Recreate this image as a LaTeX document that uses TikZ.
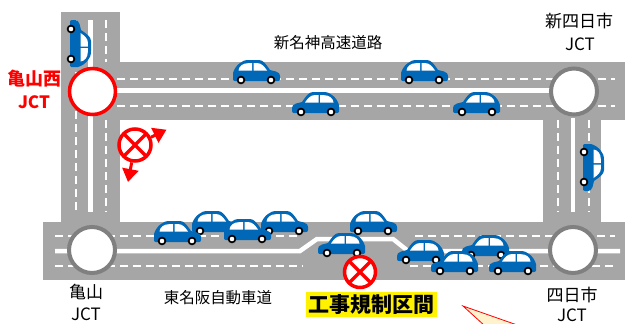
\documentclass[tikz,border=0pt]{standalone}
\usepackage{fontspec}
\newfontfamily\jp{Noto Sans CJK JP}
\usetikzlibrary{arrows.meta}

\definecolor{roadgray}{RGB}{166,166,166}
\definecolor{ringgray}{RGB}{128,128,128}
\definecolor{carblue}{RGB}{0,104,183}
\definecolor{calloutfill}{RGB}{255,242,204}

\tikzset{
  roadfill/.style={fill=roadgray},
  lanedash/.style={draw=white, line width=1.6pt, dash pattern=on 8pt off 5pt},
  midline/.style={draw=white, line width=4.5pt},
  jctnode/.style={circle, draw=ringgray, line width=4pt, fill=white,
    minimum size=46pt, inner sep=0pt},
  nosign/.style={circle, draw=red, line width=3.5pt, fill=white,
    minimum size=#1, inner sep=0pt,
    path picture={\draw[red, line width=3.5pt]
      (path picture bounding box.north west) -- (path picture bounding box.south east)
      (path picture bounding box.north east) -- (path picture bounding box.south west);}},
  detour/.style={draw=red, line width=3pt, -{Triangle[width=16pt,length=13pt]}},
  jctlabel/.style={font=\jp\fontsize{17}{17}\selectfont, inner sep=0pt},
  roadlabel/.style={font=\jp\fontsize{15.5}{15.5}\selectfont, inner sep=0pt},
  redlabel/.style={font=\jp\bfseries\fontsize{18}{18}\selectfont, text=red, inner sep=0pt},
  % side view of a car heading right, origin at the top-left corner
  car/.pic={
    \fill[carblue] (1,19.5) -- (1,13) .. controls (2,9) and (5,5) .. (8,3)
      .. controls (10,1) and (13,0) .. (17,0) -- (27,0)
      .. controls (31,0) and (34,4) .. (38,10) -- (44,11.5)
      .. controls (47,12.5) and (48,14) .. (48,16) -- (48,19)
      .. controls (48,20.5) and (47,21) .. (46,21) -- (3,21)
      .. controls (2,21) and (1,20.5) .. (1,19.5) -- cycle;
    \fill[white] (6.5,10.5) .. controls (7,6) and (11,3.2) .. (16,3.2)
      -- (20,3.2) -- (20,10.5) -- cycle;
    \fill[white] (21.5,3.2) -- (26,3.2) .. controls (29,3.2) and (32,6) .. (35,10.5)
      -- (21.5,10.5) -- cycle;
    \fill[black] (9,20) circle (4.3pt) (39,20) circle (4.3pt);
    \fill[white] (9,20) circle (2.3pt) (39,20) circle (2.3pt);
  }
}

% car heading right / left, given by the top-left corner of its box
\newcommand\carR[2]{\begin{scope}[shift={(#1,#2)}]\pic[transform shape]{car};\end{scope}}
\newcommand\carL[2]{\begin{scope}[shift={(#1+48,#2)},xscale=-1]\pic[transform shape]{car};\end{scope}}

\begin{document}
\begin{tikzpicture}[x=1pt,y=-1pt]
\useasboundingbox (0,0) rectangle (625,324);
\fill[white] (0,0) rectangle (625,324);

% ---- roads ----
\fill[roadfill] (61,12) rectangle (120,222);
\fill[roadfill] (61,62) rectangle (625,120);
\fill[roadfill] (543,120) rectangle (601,222);
\fill[roadfill] (43,222) rectangle (625,280);

% ---- markings: Shin-Meishin ----
\draw[lanedash] (117,79) -- (615,79);
\draw[lanedash] (117,106) -- (615,106);
\draw[midline] (117,90.5) -- (552,90.5);

% ---- markings: left link road ----
\draw[midline] (90.5,20) -- (90.5,212);
\draw[lanedash] (106,20) -- (106,62);
\draw[lanedash] (106,120) -- (106,212);
\draw[lanedash] (76,20) -- (76,212);

% ---- markings: right link road ----
\draw[midline] (573,118) -- (573,212);
\draw[lanedash] (558,120) -- (558,212);
\draw[lanedash] (589,120) -- (589,212);

% ---- markings: Higashi-Meihan with the lane shift ----
\draw[midline, line join=miter] (55,251) -- (300,251) -- (317,239) -- (393,239)
  -- (408,251) -- (620,251);
\draw[lanedash] (55,236) -- (300,236);
\draw[lanedash] (415,236) -- (615,236);
\draw[lanedash] (55,266) -- (303,266);
\draw[lanedash] (410,266) -- (615,266);

% ---- junctions ----
\node[jctnode, draw=red, line width=3.5pt] (kameyamanishi) at (92.5,91.5) {};
\node[jctnode] (shinyokkaichi) at (574,91.5) {};
\node[jctnode] (kameyama) at (92,250) {};
\node[jctnode] (yokkaichi) at (573,250) {};

% ---- cars on the link roads ----
\begin{scope}[shift={(91,68)}, cm={0,1,1,0,(0,0)}]\pic[transform shape]{car};\end{scope}
\begin{scope}[shift={(604,143)}, rotate=-90]\pic[transform shape]{car};\end{scope}

% ---- cars on Shin-Meishin ----
\carR{232}{60}
\carR{400}{60}
\carL{292}{92}
\carL{453}{92}

% ---- cars on Higashi-Meihan ----
\carR{191}{211}
\carR{260}{211}
\carR{349}{211}
\carR{153}{221}
\carR{223}{219}
\carL{318}{233}
\carL{462}{235}
\carL{397}{240}
\carL{431}{251}
\carL{489}{251}

% ---- closure signs ----
\node[nosign=32pt] (detoursign) at (135,145) {};
\coordinate (detourE) at (166.5,129.7);
\coordinate (detourS) at (128,182);
\draw[detour] (detoursign) -- (detourE);
\draw[detour] (detoursign) -- (detourS);

\node[nosign=31pt] (worksign) at (360,272) {};

% ---- labels ----
\node[redlabel] (kn1) at (34.5,78.5) {亀山西};
\node[redlabel, font=\jp\bfseries\fontsize{17}{17}\selectfont] (kn2) at (34,102) {JCT};

\node[roadlabel] (shinmeishin) at (328,43) {新名神高速道路};
\node[jctlabel] (sy1) at (579,21.5) {新四日市};
\node[jctlabel] (sy2) at (580,44.5) {JCT};

\node[jctlabel] (ky1) at (86,292) {亀山};
\node[jctlabel] (ky2) at (86,314.5) {JCT};
\node[roadlabel] (higashimeihan) at (218,298) {東名阪自動車道};
\node[jctlabel] (yk1) at (572,295.5) {四日市};
\node[jctlabel] (yk2) at (572,315.5) {JCT};

\node[fill=yellow, minimum width=131pt, minimum height=25pt, inner sep=0pt,
  font=\jp\bfseries\fontsize{21}{21}\selectfont] (worklabel) at (371.5,304.5) {工事規制区間};

% ---- tip of the callout ----
\filldraw[fill=calloutfill, draw=red, line width=0.8pt]
  (463,306) -- (520,326) -- (485,326) -- cycle;
\end{tikzpicture}
\end{document}
